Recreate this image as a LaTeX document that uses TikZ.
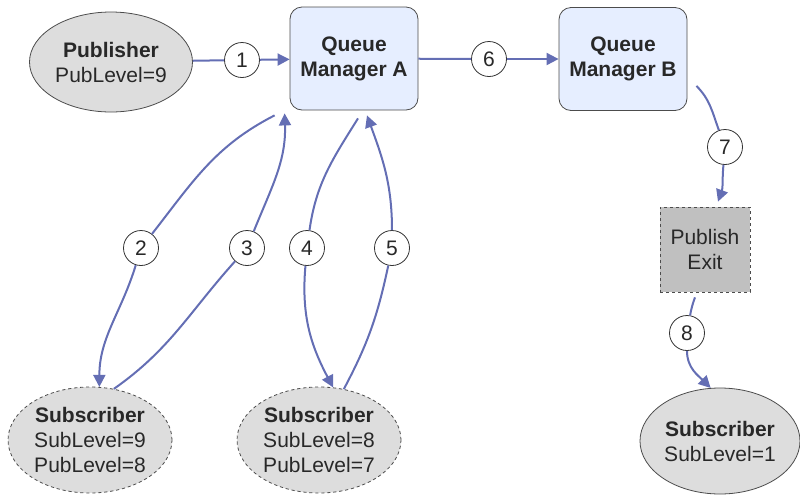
\documentclass[tikz,border=0pt]{standalone}
\usepackage{fontspec}
\setmainfont{Liberation Sans}
\usetikzlibrary{shapes.geometric,arrows.meta}
\definecolor{flowblue}{RGB}{100,110,180}
\definecolor{qmfill}{RGB}{230,238,255}
\definecolor{subfill}{RGB}{221,221,221}
\definecolor{exitfill}{RGB}{192,192,192}
\definecolor{txtgray}{RGB}{40,40,40}

\begin{document}
\begin{tikzpicture}[x=0.5pt, y=-0.5pt,
    every node/.style={text=txtgray, font=\fontsize{10.5}{12.5}\selectfont},
    actor/.style={ellipse, draw=black!70, fill=subfill, align=center, inner sep=0pt,
        minimum width=82pt, minimum height=53pt},
    dashedactor/.style={actor, dash pattern=on 1.6pt off 1.4pt},
    qmgr/.style={rectangle, rounded corners=6pt, draw=black!70, fill=qmfill, align=center,
        minimum width=64pt, minimum height=51.5pt},
    exitbox/.style={rectangle, draw=black!70, fill=exitfill, dash pattern=on 1.6pt off 1.4pt,
        align=center, minimum width=45pt, minimum height=42.5pt},
    stepnum/.style={circle, draw=black!80, fill=white, inner sep=0pt, minimum size=17.5pt,
        font=\fontsize{10.5}{12}\selectfont},
    flow/.style={draw=flowblue, line width=1pt},
    flowarr/.style={flow, -{Triangle[length=6pt, width=6pt]}}
]
\useasboundingbox (0,0) rectangle (800,494);

\node[actor, minimum width=81.5pt, minimum height=50pt] (pub) at (111,62) {\textbf{Publisher}\\PubLevel=9};
\node[qmgr] (qma) at (354,58.5) {\textbf{Queue}\\\textbf{Manager A}};
\node[qmgr] (qmb) at (623,59) {\textbf{Queue}\\\textbf{Manager B}};
\node[exitbox] (pexit) at (705,249.5) {Publish\\Exit};
\node[dashedactor] (sub1) at (90,440) {\textbf{Subscriber}\\SubLevel=9\\PubLevel=8};
\node[dashedactor] (sub2) at (319,440) {\textbf{Subscriber}\\SubLevel=8\\PubLevel=7};
\node[actor, minimum width=80pt] (sub3) at (720,441) {\textbf{Subscriber}\\SubLevel=1};

\node[stepnum] (n1) at (242,60) {1};
\node[stepnum] (n2) at (141,248) {2};
\node[stepnum] (n3) at (247,248) {3};
\node[stepnum] (n4) at (307,248) {4};
\node[stepnum] (n5) at (392,248) {5};
\node[stepnum] (n6) at (489,59) {6};
\node[stepnum] (n7) at (725,147) {7};
\node[stepnum] (n8) at (687,333) {8};

\draw[flow] (pub) -- (n1);
\draw[flowarr] (n1) -- (qma);
\draw[flow] (qma) -- (n6);
\draw[flowarr] (n6) -- (qmb);

\draw[flow] ([shift={(-15,5)}]qma.south west) to[out=207, in=52] (n2);
\draw[flowarr] (n2) to[out=-107, in=90] (sub1.80);
\draw[flow] (sub1.65) to[out=35, in=228] (n3);
\draw[flowarr] (n3) to[out=68, in=-88] ([shift={(-5,3)}]qma.south west);

\draw[flow] ([shift={(4,8)}]qma.south) to[out=238, in=82] (n4);
\draw[flowarr] (n4) to[out=-95, in=118] (sub2.75);
\draw[flow] (sub2.64) to[out=62, in=-102] (n5);
\draw[flowarr] (n5) to[out=90, in=-70] ([shift={(13,5)}]qma.south);

\draw[flow] ([shift={(9,-25)}]qmb.south east) to[out=-45, in=110] (n7);
\draw[flowarr] (n7) to[out=-95, in=70] ([shift={(13,-5)}]pexit.north);
\draw[flow] ([shift={(-10,5)}]pexit.south) to[out=-110, in=80] (n8);
\draw[flowarr] (n8) to[out=-90, in=135] (sub3.100);
\end{tikzpicture}
\end{document}
